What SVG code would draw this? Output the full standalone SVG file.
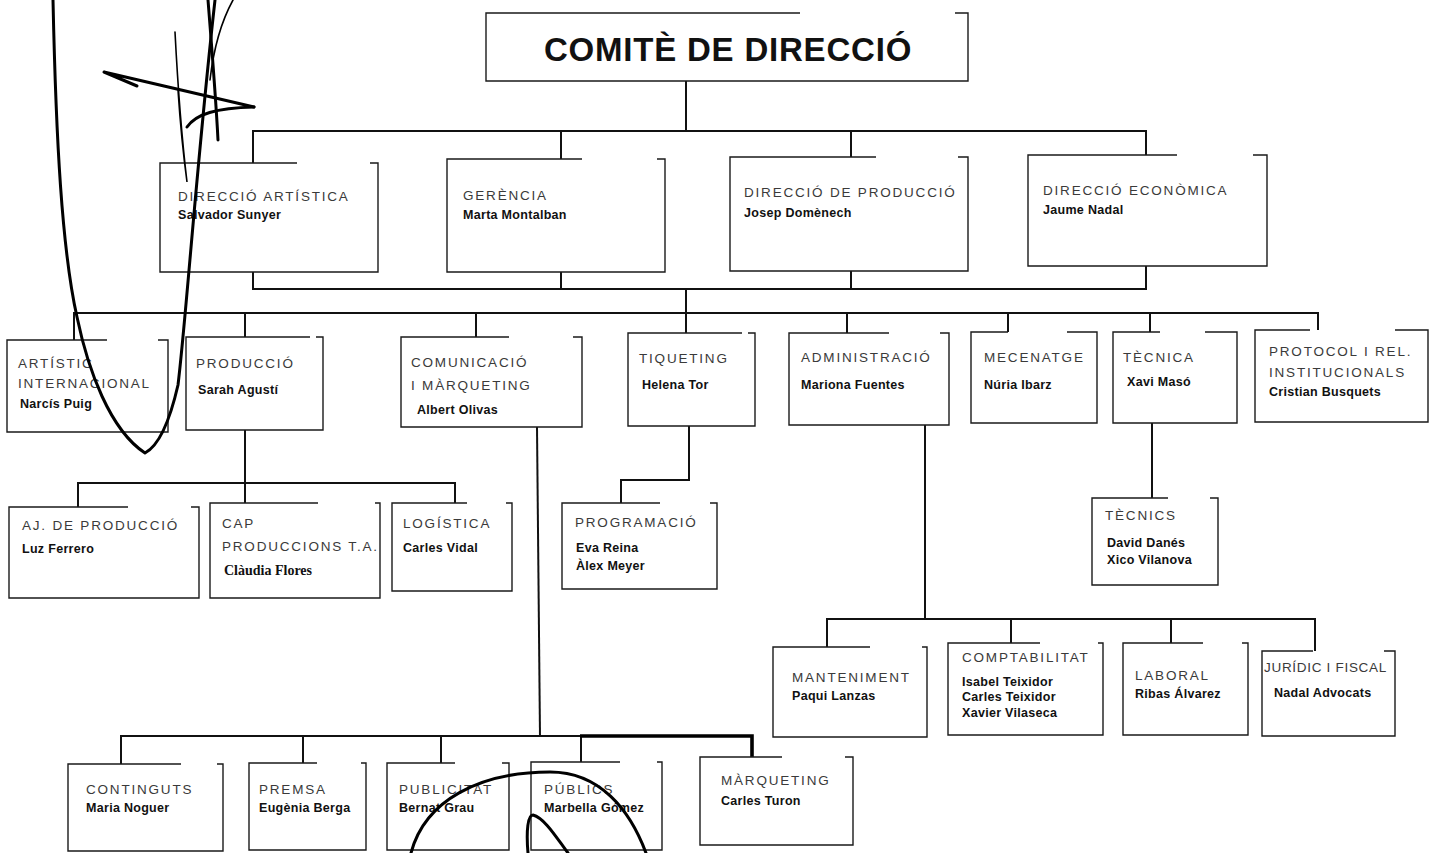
<svg xmlns="http://www.w3.org/2000/svg" width="1437" height="853" viewBox="0 0 1437 853">
<style>
.box{fill:none;stroke:#1a1a1a;stroke-width:1.4}
.c{fill:none;stroke:#111;stroke-width:2}
.ck{fill:none;stroke:#000;stroke-width:3.6}
.t{font-family:"Liberation Sans",Arial,sans-serif;font-size:13.5px;fill:#3a3a3a;letter-spacing:1.8px}
.n{font-family:"Liberation Sans",Arial,sans-serif;font-size:12.5px;font-weight:bold;fill:#111;letter-spacing:0.3px}
.ns{font-family:"Liberation Serif","Times New Roman",serif;font-size:14px;font-weight:bold;fill:#111}
.h{font-family:"Liberation Sans",Arial,sans-serif;font-size:33px;font-weight:bold;fill:#111;letter-spacing:0.8px}
.sig{fill:none;stroke:#000;stroke-width:3;stroke-linecap:round;stroke-linejoin:round}
.sigt{fill:none;stroke:#000;stroke-width:1.6;stroke-linecap:round}
</style>
<rect width="1437" height="853" fill="#fff"/>

<g id="connectors">
<path class="c" d="M686,81 V131"/>
<path class="c" d="M253,163 V131 H1146 V155"/>
<path class="c" d="M561,131 V159"/>
<path class="c" d="M851,131 V157"/>
<path class="c" d="M253,272 V289 H1146 V266"/>
<path class="c" d="M561,272 V289"/>
<path class="c" d="M851,271 V289"/>
<path class="c" d="M686,289 V313"/>
<path class="c" d="M74,340 V313 H1318 V330"/>
<path class="c" d="M245,313 V337"/>
<path class="c" d="M476,313 V337"/>
<path class="c" d="M686,313 V333"/>
<path class="c" d="M847,313 V333"/>
<path class="c" d="M1008,313 V332"/>
<path class="c" d="M1150,313 V332"/>
<path class="c" d="M245,430 V483"/>
<path class="c" d="M78,507 V483 H455 V503"/>
<path class="c" d="M245,483 V503"/>
<path class="c" d="M689,426 V480 H621 V503"/>
<path class="c" d="M1152,423 V498"/>
<path class="c" d="M925,425 V619"/>
<path class="c" d="M827,647 V619 H1315 V651"/>
<path class="c" d="M1011,619 V643"/>
<path class="c" d="M1171,619 V643"/>
<path class="c" d="M537,427 L540,736"/>
<path class="c" d="M121,764 V736 H580"/>
<path class="c" d="M303,736 V763"/>
<path class="c" d="M441,736 V763"/>
<path class="c" d="M581,736 V762"/>
<path class="ck" d="M580,736 H752 V757"/>
</g>

<g id="n-comite">
<path class="box" d="M955,13 H968 V81 H486 V13 H800"/>
<text class="h" x="728" y="61" text-anchor="middle">COMITÈ DE DIRECCIÓ</text>
</g>

<g id="n-dir-artistica">
<path class="box" d="M370,163 H378 V272 H160 V163 H297"/>
<text class="t" x="178" y="201">DIRECCIÓ ARTÍSTICA</text>
<text class="n" x="178" y="219">Salvador Sunyer</text>
</g>
<g id="n-gerencia">
<path class="box" d="M657,159 H665 V272 H447 V159 H582"/>
<text class="t" x="463" y="200">GERÈNCIA</text>
<text class="n" x="463" y="219">Marta Montalban</text>
</g>
<g id="n-dir-produccio">
<path class="box" d="M958,157 H968 V271 H730 V157 H876"/>
<text class="t" x="744" y="197">DIRECCIÓ DE PRODUCCIÓ</text>
<text class="n" x="744" y="217">Josep Domènech</text>
</g>
<g id="n-dir-economica">
<path class="box" d="M1253,155 H1267 V266 H1028 V155 H1177"/>
<text class="t" x="1043" y="195">DIRECCIÓ ECONÒMICA</text>
<text class="n" x="1043" y="214">Jaume Nadal</text>
</g>

<g id="n-artistic-int">
<path class="box" d="M158,340 H168 V432 H7 V340 H107"/>
<text class="t" x="18" y="368">ARTÍSTIC</text>
<text class="t" x="18" y="388">INTERNACIONAL</text>
<text class="n" x="20" y="408">Narcís Puig</text>
</g>
<g id="n-produccio">
<path class="box" d="M316,337 H323 V430 H186 V337 H310"/>
<text class="t" x="196" y="368">PRODUCCIÓ</text>
<text class="n" x="198" y="394">Sarah Agustí</text>
</g>
<g id="n-comunicacio">
<path class="box" d="M573,337 H582 V427 H401 V337 H509"/>
<text class="t" x="411" y="367">COMUNICACIÓ</text>
<text class="t" x="411" y="390">I MÀRQUETING</text>
<text class="n" x="417" y="414">Albert Olivas</text>
</g>
<g id="n-tiqueting">
<path class="box" d="M748,333 H755 V426 H628 V333 H742"/>
<text class="t" x="639" y="363">TIQUETING</text>
<text class="n" x="642" y="389">Helena Tor</text>
</g>
<g id="n-administracio">
<path class="box" d="M940,333 H949 V425 H789 V333 H889"/>
<text class="t" x="801" y="362">ADMINISTRACIÓ</text>
<text class="n" x="801" y="389">Mariona Fuentes</text>
</g>
<g id="n-mecenatge">
<path class="box" d="M1067,332 H1097 V423 H971 V332 H1008"/>
<text class="t" x="984" y="362">MECENATGE</text>
<text class="n" x="984" y="389">Núria Ibarz</text>
</g>
<g id="n-tecnica">
<path class="box" d="M1205,332 H1237 V423 H1113 V332 H1160"/>
<text class="t" x="1123" y="362">TÈCNICA</text>
<text class="n" x="1127" y="386">Xavi Masó</text>
</g>
<g id="n-protocol">
<path class="box" d="M1395,330 H1428 V422 H1255 V330 H1310"/>
<text class="t" x="1269" y="356">PROTOCOL I REL.</text>
<text class="t" x="1269" y="377">INSTITUCIONALS</text>
<text class="n" x="1269" y="396">Cristian Busquets</text>
</g>

<g id="n-aj-produccio">
<path class="box" d="M191,507 H199 V598 H9 V507 H128"/>
<text class="t" x="22" y="530">AJ. DE PRODUCCIÓ</text>
<text class="n" x="22" y="553">Luz Ferrero</text>
</g>
<g id="n-cap-produccions">
<path class="box" d="M375,503 H380 V598 H210 V503 H318"/>
<text class="t" x="222" y="528">CAP</text>
<text class="t" x="222" y="551">PRODUCCIONS T.A.</text>
<text class="ns" x="224" y="575">Clàudia Flores</text>
</g>
<g id="n-logistica">
<path class="box" d="M506,503 H512 V591 H392 V503 H467"/>
<text class="t" x="403" y="528">LOGÍSTICA</text>
<text class="n" x="403" y="552">Carles Vidal</text>
</g>
<g id="n-programacio">
<path class="box" d="M710,503 H717 V589 H562 V503 H660"/>
<text class="t" x="575" y="527">PROGRAMACIÓ</text>
<text class="n" x="576" y="552">Eva Reina</text>
<text class="n" x="576" y="570">Àlex Meyer</text>
</g>
<g id="n-tecnics">
<path class="box" d="M1210,498 H1218 V585 H1092 V498 H1168"/>
<text class="t" x="1105" y="520">TÈCNICS</text>
<text class="n" x="1107" y="547">David Danés</text>
<text class="n" x="1107" y="564">Xico Vilanova</text>
</g>

<g id="n-manteniment">
<path class="box" d="M922,647 H927 V737 H773 V647 H870"/>
<text class="t" x="792" y="682">MANTENIMENT</text>
<text class="n" x="792" y="700">Paqui Lanzas</text>
</g>
<g id="n-comptabilitat">
<path class="box" d="M1098,643 H1103 V735 H948 V643 H1040"/>
<text class="t" x="962" y="662">COMPTABILITAT</text>
<text class="n" x="962" y="686">Isabel Teixidor</text>
<text class="n" x="962" y="701">Carles Teixidor</text>
<text class="n" x="962" y="717">Xavier Vilaseca</text>
</g>
<g id="n-laboral">
<path class="box" d="M1242,643 H1248 V735 H1123 V643 H1203"/>
<text class="t" x="1135" y="680">LABORAL</text>
<text class="n" x="1135" y="698">Ribas Álvarez</text>
</g>
<g id="n-juridic">
<path class="box" d="M1384,651 H1395 V736 H1262 V651 H1313"/>
<text class="t" x="1264" y="672" style="letter-spacing:0.7px">JURÍDIC I FISCAL</text>
<text class="n" x="1274" y="697">Nadal Advocats</text>
</g>

<g id="n-continguts">
<path class="box" d="M217,764 H223 V851 H68 V764 H181"/>
<text class="t" x="86" y="794">CONTINGUTS</text>
<text class="n" x="86" y="812">Maria Noguer</text>
</g>
<g id="n-premsa">
<path class="box" d="M361,763 H366 V850 H249 V763 H317"/>
<text class="t" x="259" y="794">PREMSA</text>
<text class="n" x="259" y="812">Eugènia Berga</text>
</g>
<g id="n-publicitat">
<path class="box" d="M502,763 H509 V850 H387 V763 H455"/>
<text class="t" x="399" y="794">PUBLICITAT</text>
<text class="n" x="399" y="812">Bernat Grau</text>
</g>
<g id="n-publics">
<path class="box" d="M657,762 H662 V850 H531 V762 H620"/>
<text class="t" x="544" y="794">PÚBLICS</text>
<text class="n" x="544" y="812">Marbella Gómez</text>
</g>
<g id="n-marqueting">
<path class="box" d="M845,757 H853 V845 H700 V757 H782"/>
<text class="t" x="721" y="785">MÀRQUETING</text>
<text class="n" x="721" y="805">Carles Turon</text>
</g>

<g id="signatures">
<path class="sig" d="M53,0 C56,140 62,250 77,317 C88,370 110,430 145,453 C160,445 170,420 178,385 C186,320 196,170 215,0"/>
<path class="sig" d="M137,86 L104,72 L254,107"/>
<path class="sig" d="M187,127 C196,114 216,108 254,107"/>
<path class="sigt" d="M175,32 C178,90 182,140 187,182 C184,160 180,120 178,90"/>
<path class="sig" d="M208,0 C212,50 216,100 218,140"/>
<path class="sigt" d="M233,0 C222,20 214,45 210,80"/>
<path class="sig" d="M411,853 C425,800 480,772 550,772 C600,772 630,810 646,853"/>
<path class="sig" d="M528,853 C526,830 528,815 533,815 C545,818 558,840 568,853"/>
</g>
</svg>
